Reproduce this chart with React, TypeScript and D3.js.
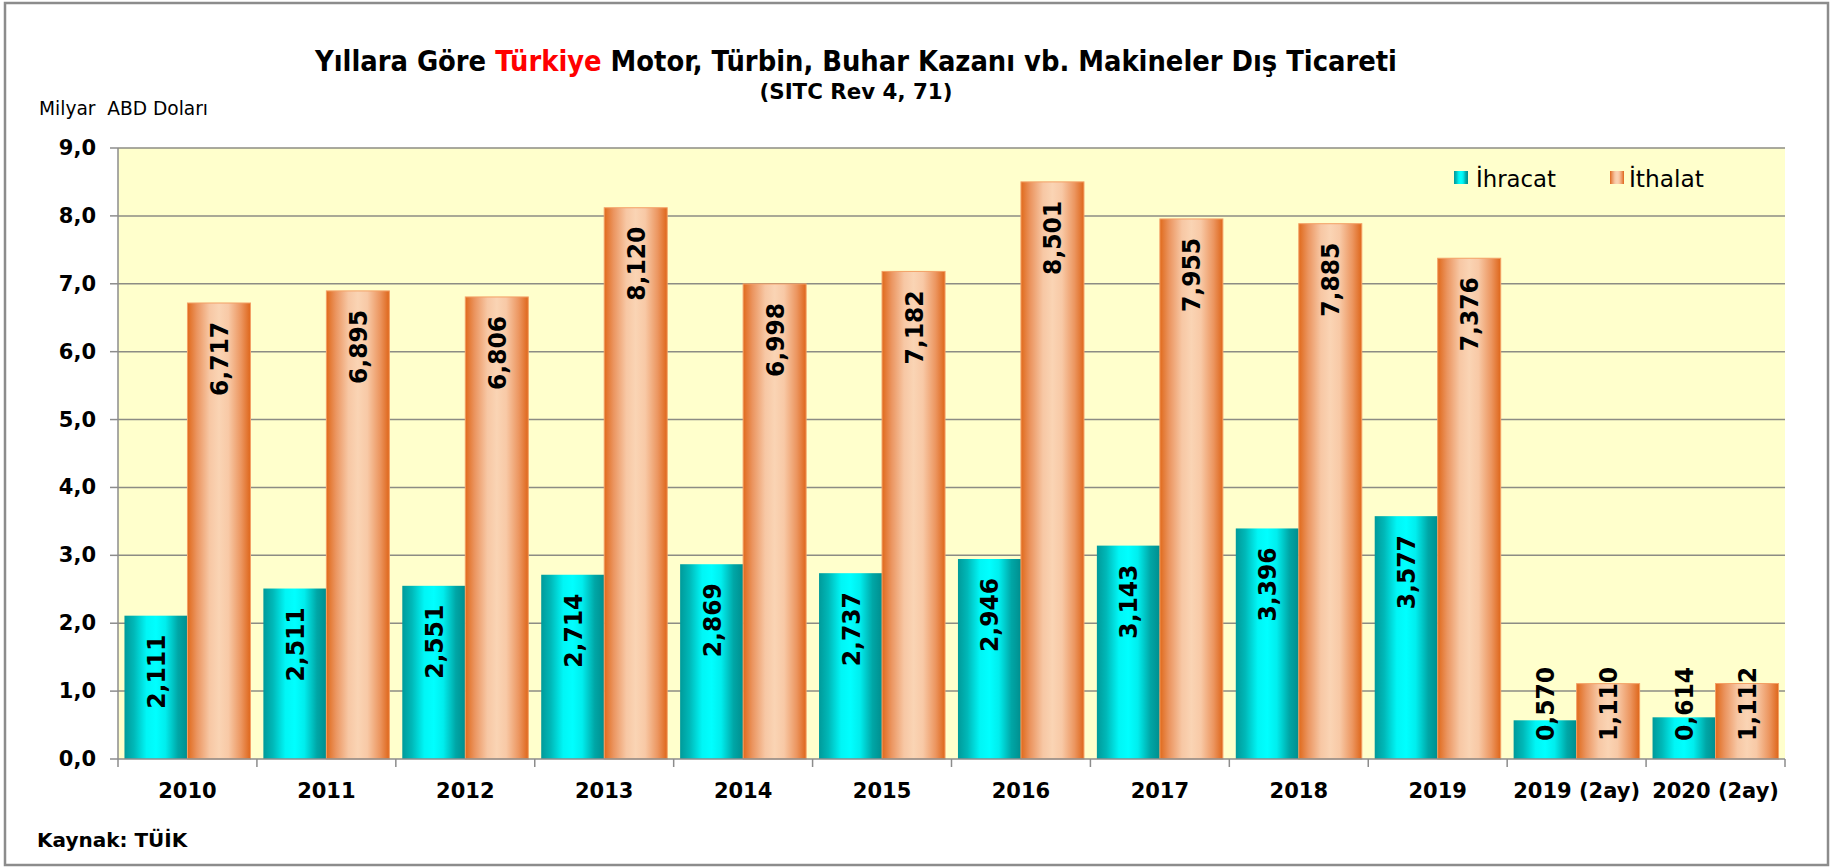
import React from "react";
import * as d3 from "d3";

const categories = ["2010", "2011", "2012", "2013", "2014", "2015", "2016", "2017", "2018", "2019", "2019 (2ay)", "2020 (2ay)"];
const ihracat = [2.111, 2.511, 2.551, 2.714, 2.869, 2.737, 2.946, 3.143, 3.396, 3.577, 0.570, 0.614];
const ithalat = [6.717, 6.895, 6.806, 8.120, 6.998, 7.182, 8.501, 7.955, 7.885, 7.376, 1.110, 1.112];
const yTicks = [0, 1, 2, 3, 4, 5, 6, 7, 8, 9];
const seriesNames = ["İhracat", "İthalat"];

const W = 1831;
const H = 868;
const left = 118;
const right = 1785;
const top = 148;
const bottom = 759;

const FONT = "'DejaVu Sans', Verdana, sans-serif";
const CFONT = "'DejaVu Sans Condensed', 'DejaVu Sans', sans-serif";

const fmt = (v: number) => v.toFixed(3).replace(".", ",");
const fmtTick = (v: number) => v.toFixed(1).replace(".", ",");

export default function App() {
  const x = d3.scaleBand<string>().domain(categories).range([left, right]).paddingInner(0).paddingOuter(0);
  const y = d3.scaleLinear().domain([0, 9]).range([bottom, top]);
  const bw = x.bandwidth();
  const barW = bw * 0.4535;
  const offset = (bw - 2 * barW) / 2;
  const labelLen = 74;

  const series = [
    { name: seriesNames[0], values: ihracat, fill: "url(#gTeal)", stroke: "none" },
    { name: seriesNames[1], values: ithalat, fill: "url(#gOrange)", stroke: "#f3a066" },
  ];

  return (
    <svg width={W} height={H} style={{ position: "absolute", left: 0, top: 0, background: "#fff" }}>
      <defs>
        <linearGradient id="gTeal" x1="0" x2="1" y1="0" y2="0">
          <stop offset="0%" stopColor="#009a9a" />
          <stop offset="15%" stopColor="#00b8b8" />
          <stop offset="35%" stopColor="#00f6f6" />
          <stop offset="50%" stopColor="#00ffff" />
          <stop offset="65%" stopColor="#00eeee" />
          <stop offset="85%" stopColor="#00a6a6" />
          <stop offset="100%" stopColor="#008e8e" />
        </linearGradient>
        <linearGradient id="gOrange" x1="0" x2="1" y1="0" y2="0">
          <stop offset="0%" stopColor="#e06a1c" />
          <stop offset="15%" stopColor="#eb9560" />
          <stop offset="35%" stopColor="#f7c7a4" />
          <stop offset="50%" stopColor="#fad4b4" />
          <stop offset="65%" stopColor="#f8c9a6" />
          <stop offset="85%" stopColor="#ec9660" />
          <stop offset="100%" stopColor="#de661a" />
        </linearGradient>
      </defs>

      {/* outer border */}
      <rect x={5} y={3} width={1823} height={862} fill="#fff" stroke="#8c8c8c" strokeWidth={2.5} />

      {/* title */}
      <text x={856} y={71} textAnchor="middle" fontFamily={CFONT} fontWeight="bold" fontSize={28} fill="#000" textLength={1082} lengthAdjust="spacingAndGlyphs">
        Yıllara Göre <tspan fill="#ff0000">Türkiye</tspan> Motor, Türbin, Buhar Kazanı vb. Makineler Dış Ticareti
      </text>
      <text x={856} y={99} textAnchor="middle" fontFamily={CFONT} fontWeight="bold" fontSize={22} fill="#000" textLength={193} lengthAdjust="spacingAndGlyphs">
        (SITC Rev 4, 71)
      </text>
      <text x={39} y={115} fontFamily={CFONT} fontSize={20} fill="#000" style={{ whiteSpace: "pre" }} textLength={169} lengthAdjust="spacingAndGlyphs">
        {"Milyar  ABD Doları"}
      </text>

      {/* plot background */}
      <rect x={left} y={top} width={right - left} height={bottom - top} fill="#ffffcc" />

      {/* gridlines */}
      {yTicks.filter((t) => t > 0).map((t) => (
        <line key={t} x1={left} x2={right} y1={y(t)} y2={y(t)} stroke="#8c8c84" strokeWidth={1.5} />
      ))}

      {/* bars */}
      {series.map((s, si) =>
        s.values.map((v, i) => {
          const bx = (x(categories[i]) as number) + offset + si * barW;
          return (
            <rect key={`${si}-${i}`} x={bx} y={y(v)} width={barW} height={bottom - y(v)} fill={s.fill} stroke={s.stroke} strokeWidth={1} />
          );
        })
      )}

      {/* value labels */}
      {series.map((s, si) =>
        s.values.map((v, i) => {
          const cx = (x(categories[i]) as number) + offset + si * barW + barW / 2 + 1;
          const ys = Math.min(y(v) + 19 + labelLen, bottom - 18);
          return (
            <text key={`l${si}-${i}`} transform={`translate(${cx},${ys}) rotate(-90)`} dominantBaseline="central" fontFamily={FONT} fontWeight="bold" fontSize={24} fill="#000" textLength={labelLen} lengthAdjust="spacingAndGlyphs">
              {fmt(v)}
            </text>
          );
        })
      )}

      {/* axes */}
      <line x1={left} x2={left} y1={top} y2={bottom} stroke="#8c8c8c" strokeWidth={1.5} />
      <line x1={left} x2={right} y1={bottom} y2={bottom} stroke="#8c8c8c" strokeWidth={1.5} />
      {yTicks.map((t) => (
        <g key={`t${t}`}>
          <line x1={left - 8} x2={left} y1={y(t)} y2={y(t)} stroke="#8c8c8c" strokeWidth={1.5} />
          <text x={96} y={y(t)} textAnchor="end" dominantBaseline="central" fontFamily={FONT} fontWeight="bold" fontSize={21} fill="#000">
            {fmtTick(t)}
          </text>
        </g>
      ))}
      {[...categories.map((c) => x(c) as number), right].map((px, i) => (
        <line key={`ct${i}`} x1={px} x2={px} y1={bottom} y2={bottom + 8} stroke="#8c8c8c" strokeWidth={1.5} />
      ))}
      {categories.map((c) => (
        <text key={`c${c}`} x={(x(c) as number) + bw / 2} y={798} textAnchor="middle" fontFamily={FONT} fontWeight="bold" fontSize={21} fill="#000">
          {c}
        </text>
      ))}

      {/* legend */}
      <rect x={1454} y={171} width={14} height={13} fill="url(#gTeal)" />
      <text x={1476} y={187} fontFamily={CFONT} fontSize={23} fill="#000" textLength={80} lengthAdjust="spacingAndGlyphs">{seriesNames[0]}</text>
      <rect x={1610} y={171} width={14} height={13} fill="url(#gOrange)" />
      <text x={1629} y={187} fontFamily={CFONT} fontSize={23} fill="#000" textLength={75} lengthAdjust="spacingAndGlyphs">{seriesNames[1]}</text>

      {/* source */}
      <text x={37} y={847} fontFamily={FONT} fontWeight="bold" fontSize={20} fill="#000">Kaynak: TÜİK</text>
    </svg>
  );
}
